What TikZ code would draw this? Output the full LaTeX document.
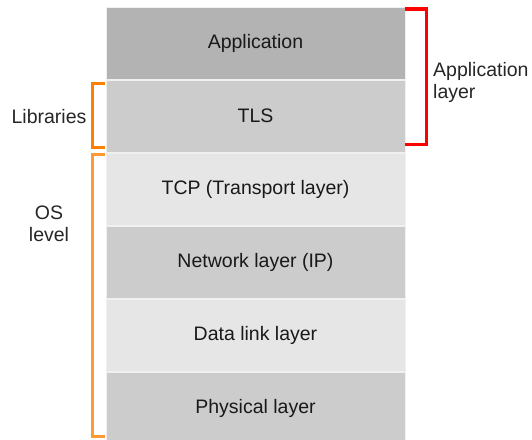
\documentclass[tikz,border=0pt]{standalone}
\usepackage{fontspec}
\setmainfont{Liberation Sans}
\usetikzlibrary{positioning}

\definecolor{appgrey}{HTML}{B3B3B3}
\definecolor{midgrey}{HTML}{CCCCCC}
\definecolor{lightgrey}{HTML}{E6E6E6}
\definecolor{libsorange}{HTML}{FF8000}
\definecolor{osorange}{HTML}{FF9933}

\begin{document}
\begin{tikzpicture}[x=1pt, y=1pt,
    layer/.style={draw=white!94!black, line width=0.8pt, minimum width=299pt, minimum height=72.3pt, inner sep=0pt, font=\fontsize{19.5}{23}\selectfont, text=black!90},
    sidetext/.style={font=\fontsize{19.5}{22}\selectfont, text=black!85, inner sep=0pt},
    redbracket/.style={draw=red, line width=3.6pt, line join=miter},
    orangebracket/.style={line width=2.7pt, line join=miter}]

    \useasboundingbox (0,0) rectangle (532,-439);

    % the stack
    \node[layer, fill=appgrey] (app) at (255.5,-43.15) {Application};
    \node[layer, fill=midgrey, below=0pt of app] (tls) {TLS};
    \node[layer, fill=lightgrey, below=0pt of tls] (tcp) {TCP (Transport layer)};
    \node[layer, fill=midgrey, below=0pt of tcp] (net) {Network layer (IP)};
    \node[layer, fill=lightgrey, below=0pt of net] (link) {Data link layer};
    \node[layer, fill=midgrey, below=0pt of link] (phys) {Physical layer};

    % brackets
    \draw[redbracket] (app.north east) ++(0,-2.5) -- ++(21,0) -- ++(0,-135.5) -- ++(-21,0);
    \draw[orangebracket, libsorange] (tls.north west) ++(-1,-4) -- ++(-12,0) -- ++(0,-64) -- ++(12,0);
    \draw[orangebracket, osorange] (tcp.north west) ++(-1,-2) -- ++(-12,0) -- ++(0,-282) -- ++(12,0);

    % labels
    \node[sidetext, anchor=west, align=left] (applayer) at (433,-82) {Application\\layer};
    \node[sidetext] (libs) at (49,-117) {Libraries};
    \node[sidetext, align=center] (oslevel) at (49,-224) {OS\\level};

\end{tikzpicture}
\end{document}
